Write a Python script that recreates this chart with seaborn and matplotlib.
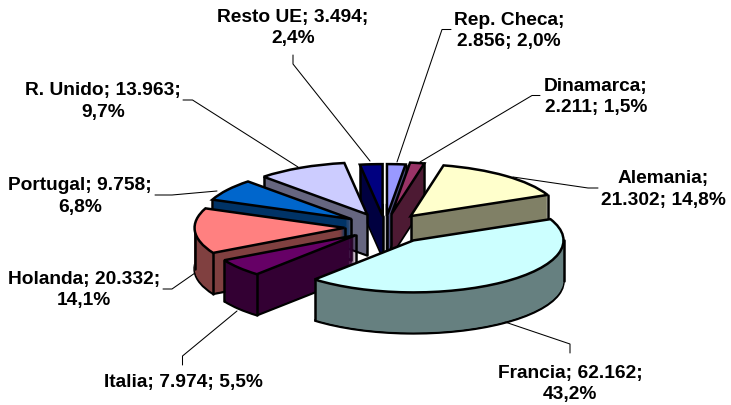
import numpy as np
import matplotlib
matplotlib.use("Agg")
import matplotlib.pyplot as plt
import seaborn as sns

categories = ["Rep. Checa", "Dinamarca", "Alemania", "Francia", "Italia",
              "Holanda", "Portugal", "R. Unido", "Resto UE"]
values = [2856, 2211, 21302, 62162, 7974, 20332, 9758, 13963, 3494]
percent_text = ["2,0%", "1,5%", "14,8%", "43,2%", "5,5%", "14,1%", "6,8%", "9,7%", "2,4%"]

top_colors = ["#9999FF", "#993366", "#FFFFCC", "#CCFFFF", "#660066",
              "#FF8080", "#0066CC", "#CCCCFF", "#000080"]
explode = [0.21, 0.25, 0.27, 0.32, 0.25, 0.27, 0.27, 0.27, 0.21]
draw_rank = [1, 2, 3, 8, 7, 6, 5, 4, 0]

W, H = 731, 406
CX, CY, RX, RY, DEPTH = 385, 228, 150, 52, 41

sns.set_theme(style="white")
plt.rcParams["font.family"] = ["Liberation Sans", "DejaVu Sans"]
side_colors = [tuple(0.5 * v for v in matplotlib.colors.to_rgb(c)) for c in top_colors]

fig = plt.figure(figsize=(W / 100, H / 100), dpi=100, facecolor="white")
ax = fig.add_axes([0, 0, 1, 1])
EDGE = 1.8

depth_units = DEPTH / RY
layers = np.linspace(depth_units, 0, DEPTH + 1)[:-1]

def zrank(i, frac):
    return 2 + draw_rank[i] + frac

# extruded side: stacked pies from bottom to just below the top face
for k, d in enumerate(layers):
    wedges, _ = ax.pie(values, explode=explode, colors=side_colors, startangle=90,
                       counterclock=False, center=(0, -d), radius=1,
                       wedgeprops=dict(linewidth=EDGE if k == 0 else 0,
                                       edgecolor="black" if k == 0 else "none"))
    for i, w in enumerate(wedges):
        w.set_zorder(zrank(i, 0.1 + 0.5 * k / len(layers)))

# top faces
wedges, _ = ax.pie(values, explode=explode, colors=top_colors, startangle=90,
                   counterclock=False, center=(0, 0), radius=1,
                   wedgeprops=dict(linewidth=EDGE, edgecolor="black"))
for i, w in enumerate(wedges):
    w.set_zorder(zrank(i, 0.9))

# vertical edges of the visible faces
total = sum(values)
edges = np.cumsum([0] + values) / total * 2 * np.pi
mids = (edges[:-1] + edges[1:]) / 2
for i in range(len(values)):
    t1, t2 = edges[i], edges[i + 1]
    ox, oy = explode[i] * np.sin(mids[i]), explode[i] * np.cos(mids[i])
    pts = []
    if np.sin(t1) < 0 or np.sin(t2) > 0:
        pts.append((ox, oy))
    if np.sin(t1) < 0 or np.cos(t1) < 0:
        pts.append((ox + np.sin(t1), oy + np.cos(t1)))
    if np.sin(t2) > 0 or np.cos(t2) < 0:
        pts.append((ox + np.sin(t2), oy + np.cos(t2)))
    for tang in (np.pi / 2, 3 * np.pi / 2):
        if t1 < tang < t2:
            pts.append((ox + np.sin(tang), oy + np.cos(tang)))
    for x, y in pts:
        ax.plot([x, x], [y, y - depth_units], color="black", lw=EDGE,
                solid_capstyle="round", zorder=zrank(i, 0.7))

ax.set_aspect("auto")
ax.set_xlim(-CX / RX, (W - CX) / RX)
ax.set_ylim((CY - H) / RY, CY / RY)
ax.set_axis_off()

# overlay in pixel coordinates for the labels and leader lines
ov = fig.add_axes([0, 0, 1, 1], facecolor="none")
ov.set_xlim(0, W)
ov.set_ylim(H, 0)
ov.set_axis_off()

label_pos = [(509, 31), (596, 97), (663, 189.5), (570, 384), (183, 382.5),
             (84, 290), (80, 196.5), (103, 101.5), (293, 28)]
leaders = [[(451, 30.5), (442, 30.5), (397, 163)],
           [(540, 96.5), (532, 96.5), (420, 163)],
           [(598, 189), (588, 189), (513, 178)],
           [(570, 354), (570, 345), (505, 323)],
           [(182.5, 366), (182.5, 357), (237, 312)],
           [(163, 290), (172, 290), (195, 274)],
           [(155, 196), (172, 196), (217, 192)],
           [(183, 101), (192.5, 101), (298, 168)],
           [(293, 56), (293, 65), (370, 162)]]

for path in leaders:
    xs, ys = zip(*path)
    ov.plot(xs, ys, color="black", lw=0.75, zorder=1)

one_line_first = ("Rep. Checa", "Dinamarca", "Alemania")
for i, name in enumerate(categories):
    num = f"{values[i]:,}".replace(",", ".")
    if name == "Italia":
        txt = f"{name}; {num}; {percent_text[i]}"
    elif name in one_line_first:
        txt = f"{name};\n{num}; {percent_text[i]}"
    else:
        txt = f"{name}; {num};\n{percent_text[i]}"
    x, y = label_pos[i]
    ov.text(x, y, txt, ha="center", va="center", fontsize=13.8, fontweight="bold",
            color="black", linespacing=1.38, zorder=5)

fig.savefig("out.png", dpi=100, facecolor="white")
